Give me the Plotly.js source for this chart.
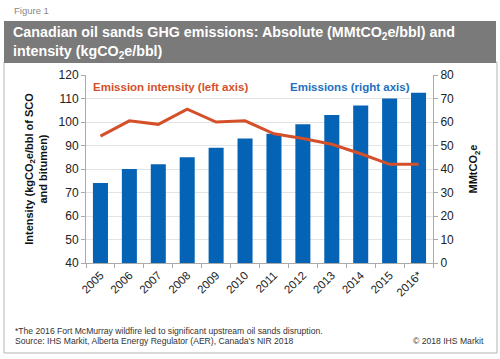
<!DOCTYPE html>
<html><head><meta charset="utf-8">
<script src="https://cdn.plot.ly/plotly-3.0.1.min.js"></script>
<style>html,body{margin:0;padding:0;background:#fff}#chart{width:500px;height:359px}</style>
</head><body><div id="chart"></div>
<script>
const years = ['2005','2006','2007','2008','2009','2010','2011','2012','2013','2014','2015','2016*'];
const emissions = [34, 40, 42, 45, 49, 53, 55, 59, 63, 67, 70, 72.5];
const intensity = [94, 100.5, 99, 105.5, 100, 100.5, 95, 93, 90.5, 86.5, 82, 82];

const L = 86, R = 67, T = 75, B = 96, W = 500, H = 359;
const pw = W - L - R, ph = H - T - B;
const px = x => (x - L) / pw;
const py = y => (H - B - y) / ph;
const F = 'Liberation Sans, Arial, sans-serif';

const traces = [
  {type:'bar', x: years, y: emissions, yaxis:'y', marker:{color:'#0563b5'}, hoverinfo:'skip'},
  {type:'scatter', mode:'lines', x: years, y: intensity, yaxis:'y2', line:{color:'#d4502a', width:3}, hoverinfo:'skip'}
];

const layout = {
  width: W, height: H,
  margin: {l: L, r: R, t: T, b: B},
  paper_bgcolor: '#fff', plot_bgcolor: '#fff',
  showlegend: false,
  bargap: 0.48,
  font: {family: F, color: '#222', size: 11},
  xaxis: {type:'category', tickangle: -45, tickfont:{size:11.5, color:'#222'}, showline:true, linecolor:'#aaa', ticks:'outside', ticklen:4, tickcolor:'#aaa', tickson:'boundaries', showgrid:false},
  yaxis: {side:'right', range:[0,80], dtick:10, showline:true, linecolor:'#aaa', ticks:'outside', ticklen:4, tickcolor:'#aaa', showgrid:true, gridcolor:'#e3e3e3', zeroline:false, tickfont:{size:12, color:'#222'},
    title:{text:'<b>MMtCO<sub>2</sub>e</b>', font:{size:11, color:'#111'}, standoff: 16}},
  yaxis2: {overlaying:'y', side:'left', range:[40,120], dtick:10, showline:true, linecolor:'#aaa', ticks:'outside', ticklen:4, tickcolor:'#aaa', showgrid:false, zeroline:false, tickfont:{size:12, color:'#222'},
    title:{text:'<b>Intensity (kgCO<sub>2</sub>e/bbl of SCO<br>and bitumen)</b>', font:{size:11, color:'#111'}, standoff: 8}},
  shapes: [
    {type:'rect', xref:'paper', yref:'paper', x0:px(4), x1:px(497), y0:py(353), y1:py(62), line:{color:'#b5b5b5', width:1}, fillcolor:'rgba(0,0,0,0)', layer:'below'},
    {type:'rect', xref:'paper', yref:'paper', x0:px(4), x1:px(496), y0:py(63), y1:py(21), line:{width:0}, fillcolor:'#7a7a7a', layer:'below'}
  ],
  annotations: [
    {xref:'paper', yref:'paper', x:px(12), y:py(11), xanchor:'left', yanchor:'middle', showarrow:false, text:'Figure 1', font:{size:9.5, color:'#888'}},
    {xref:'paper', yref:'paper', x:px(11), y:py(42), xanchor:'left', yanchor:'middle', align:'left', showarrow:false,
      text:'<b>Canadian oil sands GHG emissions: Absolute (MMtCO<sub>2</sub>e/bbl) and<br>intensity (kgCO<sub>2</sub>e/bbl)</b>', font:{size:14.3, color:'#fff'}},
    {xref:'paper', yref:'paper', x:px(91), y:py(87), xanchor:'left', yanchor:'middle', showarrow:false, text:'<b>Emission intensity (left axis)</b>', font:{size:11.5, color:'#d4502a'}},
    {xref:'paper', yref:'paper', x:px(412), y:py(87), xanchor:'right', yanchor:'middle', showarrow:false, text:'<b>Emissions (right axis)</b>', font:{size:11.5, color:'#1e6fc0'}},
    {xref:'paper', yref:'paper', x:px(13), y:py(331), xanchor:'left', yanchor:'middle', showarrow:false, text:'*The 2016 Fort McMurray wildfire led to significant upstream oil sands disruption.', font:{size:8.6, color:'#333'}},
    {xref:'paper', yref:'paper', x:px(13), y:py(341), xanchor:'left', yanchor:'middle', showarrow:false, text:'Source: IHS Markit, Alberta Energy Regulator (AER), Canada\'s NIR 2018', font:{size:8.6, color:'#333'}},
    {xref:'paper', yref:'paper', x:px(486), y:py(341), xanchor:'right', yanchor:'middle', showarrow:false, text:'© 2018 IHS Markit', font:{size:8.6, color:'#333'}}
  ]
};
Plotly.newPlot('chart', traces, layout, {displayModeBar:false, staticPlot:true});
</script></body></html>
